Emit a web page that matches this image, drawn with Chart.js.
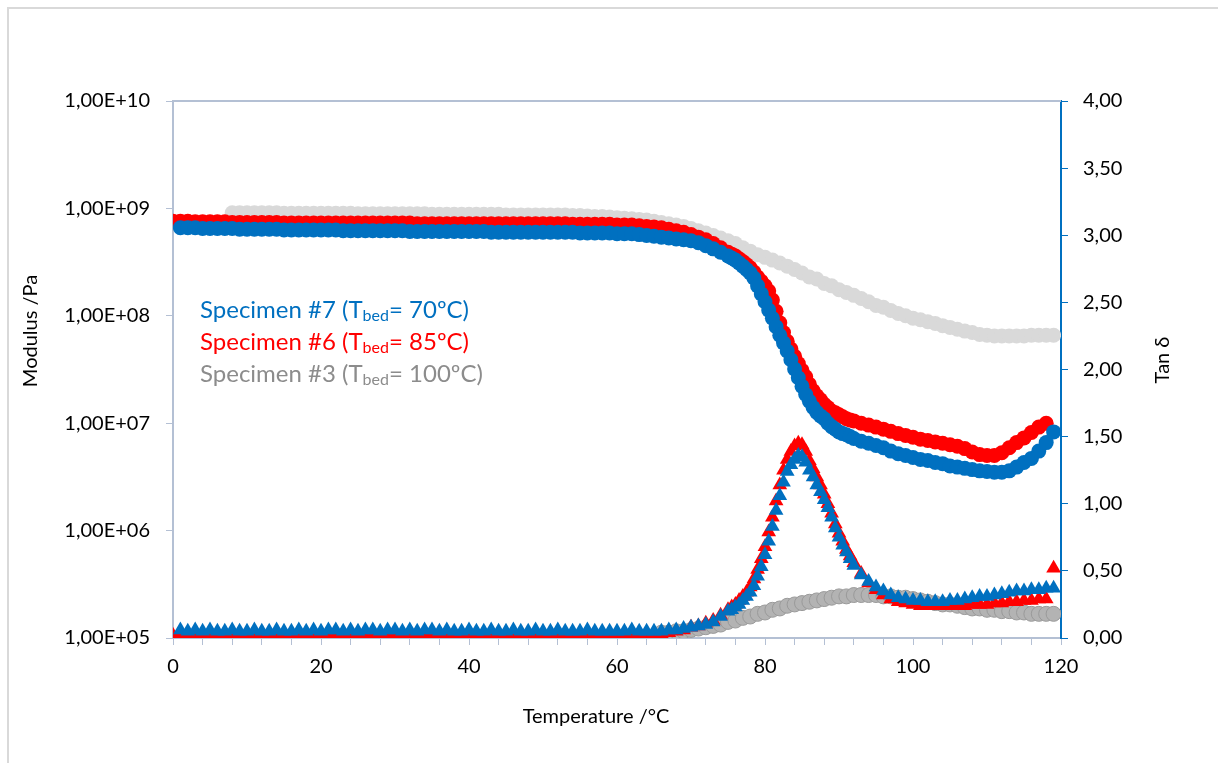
<!DOCTYPE html>
<html>
<head>
<meta charset="utf-8">
<script src="https://cdn.jsdelivr.net/npm/chart.js@4.4.0/dist/chart.umd.min.js"></script>
<style>
  html, body { margin: 0; padding: 0; background: #fff; overflow: hidden; }
</style>
</head>
<body>
<canvas id="dma" width="1218" height="763"></canvas>
<script>
// temperature grid, °C (half-degree readings through the transition)
const temperature = [
  0, 1, 2, 3, 4, 5, 6, 7, 8, 9,
  10, 11, 12, 13, 14, 15, 16, 17, 18, 19,
  20, 21, 22, 23, 24, 25, 26, 27, 28, 29,
  30, 31, 32, 33, 34, 35, 36, 37, 38, 39,
  40, 41, 42, 43, 44, 45, 46, 47, 48, 49,
  50, 51, 52, 53, 54, 55, 56, 57, 58, 59,
  60, 61, 62, 63, 64, 65, 66, 67, 68, 69,
  70, 71, 72, 73, 74,
  75, 75.5, 76, 76.5, 77, 77.5, 78, 78.5, 79, 79.5,
  80, 80.5, 81, 81.5, 82, 82.5, 83, 83.5, 84, 84.5,
  85, 85.5, 86, 86.5, 87, 87.5, 88, 88.5, 89, 89.5,
  90, 90.5, 91, 91.5, 92,
  93, 94, 95, 96, 97, 98, 99,
  100, 101, 102, 103, 104, 105, 106, 107, 108, 109,
  110, 111, 112, 113, 114, 115, 116, 117, 118, 119
];

// storage modulus, Pa
const modulus7 = [
  null, 6.6e8, 6.6e8, 6.6e8, 6.5e8, 6.5e8, 6.5e8, 6.5e8, 6.5e8, 6.4e8,
  6.4e8, 6.4e8, 6.4e8, 6.4e8, 6.4e8, 6.3e8, 6.3e8, 6.3e8, 6.3e8, 6.3e8,
  6.3e8, 6.3e8, 6.3e8, 6.2e8, 6.2e8, 6.2e8, 6.2e8, 6.2e8, 6.2e8, 6.2e8,
  6.2e8, 6.2e8, 6.1e8, 6.1e8, 6.1e8, 6.1e8, 6.1e8, 6.1e8, 6.1e8, 6.1e8,
  6.1e8, 6.1e8, 6.1e8, 6.0e8, 6.0e8, 6.0e8, 6.0e8, 6.0e8, 6.0e8, 6.0e8,
  6.0e8, 6.0e8, 6.0e8, 6.0e8, 6.0e8, 5.9e8, 5.9e8, 5.9e8, 5.9e8, 5.9e8,
  5.8e8, 5.8e8, 5.8e8, 5.7e8, 5.6e8, 5.5e8, 5.4e8, 5.3e8, 5.2e8, 5.1e8,
  5.0e8, 4.8e8, 4.5e8, 4.2e8, 3.9e8,
  3.6e8, 3.45e8, 3.3e8, 3.1e8, 2.9e8, 2.7e8, 2.5e8, 2.25e8, 1.9e8, 1.6e8,
  1.35e8, 1.13e8, 9.5e7, 7.9e7, 6.6e7, 5.6e7, 4.7e7, 3.9e7, 3.2e7, 2.65e7,
  2.2e7, 1.85e7, 1.6e7, 1.4e7, 1.26e7, 1.17e7, 1.1e7, 1.0e7, 9.3e6, 8.8e6,
  8.3e6, 8.0e6, 7.8e6, 7.5e6, 7.2e6,
  6.8e6, 6.5e6, 6.2e6, 5.9e6, 5.5e6, 5.2e6, 5.0e6,
  4.8e6, 4.6e6, 4.5e6, 4.3e6, 4.2e6, 4.0e6, 3.9e6, 3.8e6, 3.7e6, 3.6e6,
  3.55e6, 3.5e6, 3.5e6, 3.6e6, 3.9e6, 4.3e6, 4.7e6, 5.5e6, 6.6e6, 8.3e6
];
const modulus6 = [
  7.6e8, 7.6e8, 7.6e8, 7.5e8, 7.5e8, 7.5e8, 7.5e8, 7.5e8, 7.4e8, 7.4e8,
  7.4e8, 7.4e8, 7.4e8, 7.4e8, 7.4e8, 7.3e8, 7.3e8, 7.3e8, 7.3e8, 7.3e8,
  7.3e8, 7.3e8, 7.3e8, 7.3e8, 7.3e8, 7.3e8, 7.3e8, 7.3e8, 7.3e8, 7.3e8,
  7.3e8, 7.3e8, 7.3e8, 7.2e8, 7.2e8, 7.2e8, 7.2e8, 7.2e8, 7.2e8, 7.2e8,
  7.2e8, 7.2e8, 7.2e8, 7.2e8, 7.2e8, 7.2e8, 7.2e8, 7.2e8, 7.2e8, 7.2e8,
  7.2e8, 7.2e8, 7.2e8, 7.2e8, 7.1e8, 7.1e8, 7.1e8, 7.1e8, 7.1e8, 7.1e8,
  7.0e8, 7.0e8, 7.0e8, 6.9e8, 6.8e8, 6.7e8, 6.6e8, 6.4e8, 6.2e8, 6.0e8,
  5.7e8, 5.4e8, 5.1e8, 4.7e8, 4.3e8,
  3.9e8, 3.75e8, 3.6e8, 3.4e8, 3.2e8, 3.0e8, 2.8e8, 2.55e8, 2.3e8, 2.1e8,
  1.9e8, 1.7e8, 1.4e8, 1.1e8, 8.6e7, 7.0e7, 5.8e7, 4.9e7, 4.2e7, 3.6e7,
  3.1e7, 2.7e7, 2.3e7, 2.0e7, 1.8e7, 1.65e7, 1.5e7, 1.4e7, 1.3e7, 1.25e7,
  1.2e7, 1.15e7, 1.1e7, 1.07e7, 1.05e7,
  1.0e7, 9.6e6, 9.2e6, 8.8e6, 8.4e6, 8.0e6, 7.7e6,
  7.4e6, 7.1e6, 6.9e6, 6.7e6, 6.5e6, 6.3e6, 6.1e6, 5.8e6, 5.4e6, 5.1e6,
  5.0e6, 5.0e6, 5.3e6, 5.9e6, 6.6e6, 7.3e6, 8.2e6, 9.2e6, 1.0e7, null
];
const modulus3 = [
  null, null, null, null, null, null, null, null, 9.1e8, 9.1e8,
  9.1e8, 9.1e8, 9.1e8, 9.1e8, 9.1e8, 9.0e8, 9.0e8, 9.0e8, 9.0e8, 9.0e8,
  9.0e8, 9.0e8, 9.0e8, 9.0e8, 9.0e8, 8.9e8, 8.9e8, 8.9e8, 8.9e8, 8.9e8,
  8.9e8, 8.9e8, 8.9e8, 8.9e8, 8.9e8, 8.8e8, 8.8e8, 8.8e8, 8.8e8, 8.8e8,
  8.8e8, 8.8e8, 8.8e8, 8.8e8, 8.8e8, 8.7e8, 8.7e8, 8.7e8, 8.7e8, 8.7e8,
  8.7e8, 8.7e8, 8.7e8, 8.7e8, 8.6e8, 8.6e8, 8.5e8, 8.4e8, 8.4e8, 8.3e8,
  8.2e8, 8.1e8, 8.0e8, 7.9e8, 7.8e8, 7.6e8, 7.4e8, 7.2e8, 7.0e8, 6.8e8,
  6.5e8, 6.2e8, 5.9e8, 5.6e8, 5.3e8,
  5.0e8, null, 4.7e8, null, 4.3e8, null, 4.0e8, null, 3.7e8, null,
  3.5e8, null, 3.3e8, null, 3.1e8, null, 2.9e8, null, 2.7e8, null,
  2.5e8, null, 2.3e8, null, 2.2e8, null, 2.0e8, null, 1.9e8, null,
  1.75e8, null, 1.65e8, null, 1.55e8,
  1.45e8, 1.35e8, 1.25e8, 1.2e8, 1.12e8, 1.05e8, 1.0e8,
  9.5e7, 9.2e7, 8.8e7, 8.5e7, 8.1e7, 7.8e7, 7.5e7, 7.2e7, 7.0e7, 6.7e7,
  6.6e7, 6.5e7, 6.5e7, 6.5e7, 6.5e7, 6.5e7, 6.6e7, 6.6e7, 6.6e7, 6.6e7
];

// tan delta
const tan7 = [
  null, 0.06, 0.05, 0.06, 0.05, 0.06, 0.05, 0.05, 0.06, 0.05,
  0.05, 0.06, 0.05, 0.05, 0.06, 0.05, 0.05, 0.06, 0.05, 0.06,
  0.05, 0.06, 0.06, 0.05, 0.06, 0.05, 0.06, 0.06, 0.05, 0.06,
  0.06, 0.05, 0.06, 0.05, 0.06, 0.06, 0.05, 0.06, 0.05, 0.05,
  0.06, 0.05, 0.05, 0.06, 0.05, 0.05, 0.06, 0.05, 0.05, 0.06,
  0.05, 0.05, 0.06, 0.05, 0.05, 0.05, 0.06, 0.05, 0.05, 0.05,
  0.05, 0.05, 0.06, 0.05, 0.05, 0.05, 0.05, 0.06, 0.06, 0.07,
  0.08, 0.09, 0.10, 0.12, 0.16,
  0.20, 0.21, 0.23, 0.25, 0.28, 0.31, 0.34, 0.39, 0.46, 0.53,
  0.62, 0.72, 0.83, 0.95, 1.06, 1.16, 1.24, 1.29, 1.33, 1.36,
  1.35, 1.31, 1.25, 1.20, 1.14, 1.09, 1.03, 0.97, 0.90, 0.82,
  0.75, 0.69, 0.64, 0.59, 0.54,
  0.47, 0.42, 0.38, 0.35, 0.32, 0.30, 0.29,
  0.28, 0.28, 0.27, 0.27, 0.27, 0.28, 0.28, 0.29, 0.30, 0.31,
  0.31, 0.32, 0.33, 0.34, 0.35, 0.35, 0.36, 0.36, 0.37, 0.37
];
const tan6 = [
  0.02, 0.02, 0.01, 0.02, 0.02, 0.01, 0.02, 0.02, 0.01, 0.02,
  0.02, 0.02, 0.01, 0.02, 0.02, 0.02, 0.01, 0.02, 0.02, 0.02,
  0.02, 0.01, 0.02, 0.02, 0.02, 0.02, 0.01, 0.02, 0.02, 0.02,
  0.02, 0.02, 0.01, 0.02, 0.02, 0.02, 0.02, 0.01, 0.02, 0.02,
  0.02, 0.02, 0.02, 0.01, 0.02, 0.02, 0.02, 0.02, 0.02, 0.01,
  0.02, 0.02, 0.02, 0.02, 0.01, 0.02, 0.02, 0.02, 0.02, 0.02,
  0.02, 0.02, 0.02, 0.02, 0.02, 0.02, 0.03, 0.04, 0.05, 0.06,
  0.08, 0.09, 0.11, 0.13, 0.17,
  0.21, 0.23, 0.25, 0.28, 0.31, 0.34, 0.38, 0.44, 0.51, 0.59,
  0.68, 0.79, 0.90, 1.02, 1.14, 1.25, 1.33, 1.39, 1.43, 1.45,
  1.44, 1.39, 1.32, 1.26, 1.20, 1.14, 1.07, 1.00, 0.93, 0.85,
  0.78, 0.72, 0.66, 0.61, 0.56,
  0.48, 0.41, 0.36, 0.32, 0.29, 0.27, 0.26,
  0.25, 0.24, 0.24, 0.24, 0.24, 0.24, 0.24, 0.24, 0.25, 0.25,
  0.25, 0.26, 0.26, 0.27, 0.27, 0.28, 0.28, 0.29, 0.29, 0.52
];
const tan3 = [
  null, null, null, null, null, null, null, null, null, null,
  null, null, null, null, null, null, null, null, null, null,
  null, null, null, null, null, null, null, null, null, null,
  null, null, null, null, null, null, null, null, null, null,
  null, null, null, null, null, null, null, null, null, null,
  null, null, null, null, null, null, null, null, null, null,
  null, null, null, null, null, null, 0.04, 0.04, 0.05, 0.05,
  0.06, 0.07, 0.08, 0.09, 0.10,
  0.12, null, 0.13, null, 0.15, null, 0.16, null, 0.18, null,
  0.19, null, 0.21, null, 0.22, null, 0.24, null, 0.25, null,
  0.26, null, 0.27, null, 0.28, null, 0.29, null, 0.30, null,
  0.31, null, 0.31, null, 0.32,
  0.32, 0.32, 0.32, 0.31, 0.31, 0.30, 0.30,
  0.29, 0.28, 0.27, 0.26, 0.25, 0.25, 0.24, 0.23, 0.22, 0.22,
  0.21, 0.21, 0.20, 0.20, 0.19, 0.19, 0.18, 0.18, 0.18, 0.18
];

// axis ticks
const xTickLabels = ['0', '20', '40', '60', '80', '100', '120'];
const modulusTicks = [1e5, 1e6, 1e7, 1e8, 1e9, 1e10];
const modulusTickLabels = ['1,00E+05', '1,00E+06', '1,00E+07', '1,00E+08', '1,00E+09', '1,00E+10'];
const tanTickLabels = ['0,00', '0,50', '1,00', '1,50', '2,00', '2,50', '3,00', '3,50', '4,00'];

// text box inside the plot: [before subscript, subscript, after]
const specimenLabels = [
  ['Specimen #7 (T', 'bed', '= 70ºC)'],
  ['Specimen #6 (T', 'bed', '= 85ºC)'],
  ['Specimen #3 (T', 'bed', '= 100ºC)']
];

const BLUE = '#0070c0';
const RED = '#ff0000';
const AXIS = '#b4c0d4';
const FONT = 'Lato, "Open Sans", sans-serif';

const toPoints = (ys) => temperature
  .map((t, i) => (ys[i] == null ? null : { x: t, y: ys[i] }))
  .filter(Boolean);

const marks = (data, axis, style, size, fill, edge, order) => ({
  data: toPoints(data),
  yAxisID: axis,
  showLine: false,
  pointStyle: style,
  pointRadius: size,
  pointBackgroundColor: fill,
  pointBorderColor: edge || fill,
  pointBorderWidth: edge ? 1 : 0,
  order: order
});

const decor = {
  id: 'decor',
  beforeDraw(chart) {
    const { ctx } = chart;
    ctx.save();
    ctx.strokeStyle = '#d9d9d9';
    ctx.lineWidth = 2;
    ctx.beginPath();
    ctx.moveTo(8, 763);
    ctx.lineTo(8, 8);
    ctx.lineTo(1218, 8);
    ctx.stroke();
    ctx.restore();
  },
  beforeDatasetsDraw(chart) {
    const { ctx, chartArea: a } = chart;
    ctx.save();
    ctx.strokeStyle = AXIS;
    ctx.lineWidth = 2;
    ctx.beginPath();
    ctx.moveTo(a.left, a.top);
    ctx.lineTo(a.right, a.top);
    ctx.stroke();
    ctx.restore();
  },
  afterDraw(chart) {
    const { ctx } = chart;
    ctx.save();
    ctx.fillStyle = '#000';
    ctx.font = '20px ' + FONT;
    ctx.textAlign = 'center';
    ctx.textBaseline = 'middle';
    ctx.fillText('Temperature /°C', 596, 717);

    ctx.save();
    ctx.translate(31, 331);
    ctx.rotate(-Math.PI / 2);
    ctx.fillText('Modulus /Pa', 0, 0);
    ctx.restore();

    ctx.save();
    ctx.translate(1163, 360);
    ctx.rotate(-Math.PI / 2);
    ctx.fillText('Tan δ', 0, 0);
    ctx.restore();

    const colors = [BLUE, RED, '#8c8c8c'];
    ctx.textAlign = 'left';
    ctx.textBaseline = 'alphabetic';
    specimenLabels.forEach((parts, i) => {
      let x = 200;
      const y = 318 + i * 32;
      ctx.fillStyle = colors[i];
      parts.forEach((txt, j) => {
        const sub = j === 1;
        ctx.font = (sub ? '16px ' : '24px ') + FONT;
        ctx.fillText(txt, x, sub ? y + 3 : y);
        x += ctx.measureText(txt).width;
      });
    });
    ctx.restore();
  }
};

new Chart(document.getElementById('dma'), {
  type: 'scatter',
  data: {
    datasets: [
      marks(modulus7, 'yMod', 'circle', 7.5, BLUE, null, 1),
      marks(modulus6, 'yMod', 'circle', 7.5, RED, null, 2),
      marks(modulus3, 'yMod', 'circle', 7.5, '#d9d9d9', null, 3),
      marks(tan7, 'yTan', 'triangle', 8.5, BLUE, null, 1),
      marks(tan6, 'yTan', 'triangle', 8.5, RED, null, 2),
      marks(tan3, 'yTan', 'circle', 7.5, '#b3b3b3', '#9a9a9a', 4)
    ]
  },
  options: {
    responsive: false,
    animation: false,
    events: [],
    layout: { padding: { top: 101, left: 0, right: 0, bottom: 0 } },
    plugins: { legend: { display: false }, tooltip: { enabled: false } },
    scales: {
      x: {
        type: 'linear',
        min: 0,
        max: 120,
        afterFit: (s) => { s.height = 125; },
        border: { color: AXIS, width: 2 },
        grid: { drawOnChartArea: false, color: AXIS, tickLength: 7 },
        ticks: {
          stepSize: 4,
          autoSkip: false,
          maxRotation: 0,
          padding: 10,
          color: '#000',
          font: { family: FONT, size: 20 },
          callback: (v) => (v % 20 === 0 ? xTickLabels[v / 20] : '')
        }
      },
      yMod: {
        type: 'logarithmic',
        position: 'left',
        min: 1e5,
        max: 1e10,
        afterFit: (s) => { s.width = 173; },
        afterBuildTicks: (s) => { s.ticks = modulusTicks.map((v) => ({ value: v })); },
        border: { color: AXIS, width: 2 },
        grid: { drawOnChartArea: false, color: AXIS, tickLength: 7 },
        ticks: {
          padding: 16,
          color: '#000',
          font: { family: FONT, size: 20 },
          callback: (v, i) => modulusTickLabels[i]
        }
      },
      yTan: {
        type: 'linear',
        position: 'right',
        min: 0,
        max: 4,
        afterFit: (s) => { s.width = 157; },
        border: { color: BLUE, width: 2 },
        grid: { drawOnChartArea: false, color: BLUE, tickLength: 7 },
        ticks: {
          stepSize: 0.5,
          padding: 15,
          color: '#000',
          font: { family: FONT, size: 20 },
          callback: (v, i) => tanTickLabels[i]
        }
      }
    }
  },
  plugins: [decor]
});
</script>
</body>
</html>
